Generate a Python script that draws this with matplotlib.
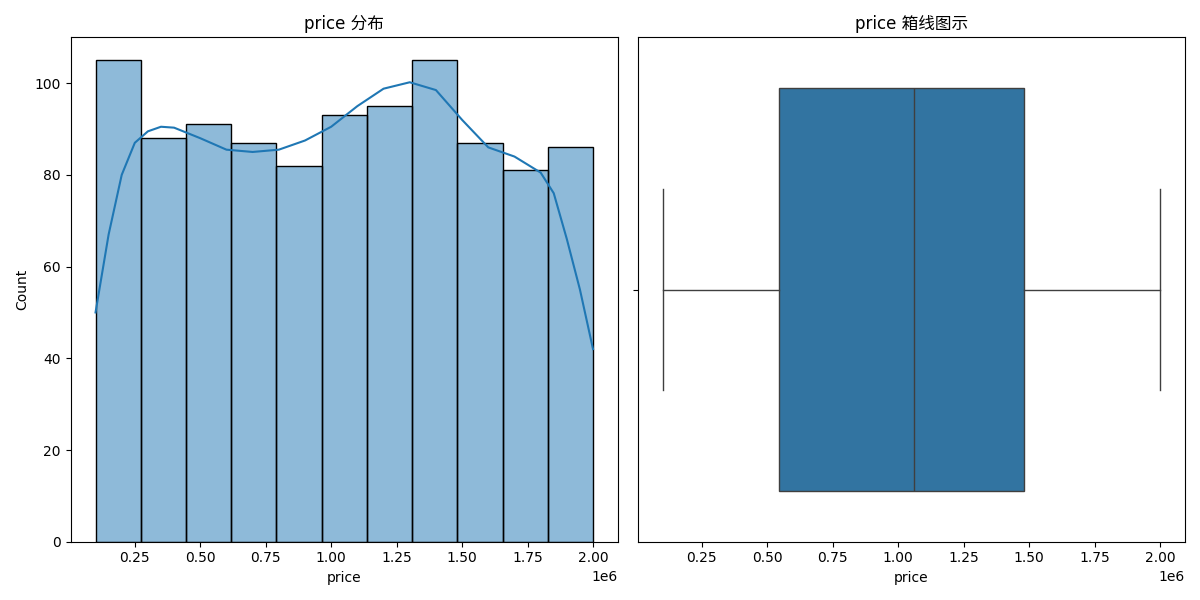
import matplotlib
matplotlib.use("Agg")
import matplotlib.pyplot as plt
import numpy as np

plt.rcParams['font.family'] = ['DejaVu Sans', 'Noto Sans CJK SC']

bin_lo, bin_hi = 1e5, 2e6
counts = [105, 88, 91, 87, 82, 93, 95, 105, 87, 81, 86]
kde_x = [0.1, 0.15, 0.2, 0.25, 0.3, 0.35, 0.4, 0.5, 0.6, 0.7, 0.8, 0.9, 1.0, 1.1, 1.2, 1.3, 1.4, 1.5, 1.6, 1.7, 1.8, 1.85, 1.9, 1.95, 2.0]
kde_y = [50, 67, 80, 87, 89.5, 90.5, 90.3, 88, 85.5, 85, 85.5, 87.5, 90.5, 95, 98.8, 100.2, 98.5, 92, 86, 84, 80.5, 76, 66, 55, 42]
box_stats = dict(whislo=1e5, q1=0.545e6, med=1.06e6, q3=1.48e6, whishi=2.0e6)

fig, (ax1, ax2) = plt.subplots(1, 2, figsize=(12, 6), dpi=100)
edges = np.linspace(bin_lo, bin_hi, len(counts) + 1)
ax1.bar(edges[:-1], counts, width=np.diff(edges), align='edge',
        color='#1f77b4', alpha=0.5, edgecolor='none')
ax1.bar(edges[:-1], counts, width=np.diff(edges), align='edge',
        fill=False, edgecolor='black', linewidth=1)
ax1.plot(np.array(kde_x) * 1e6, kde_y, color='#1f77b4', linewidth=1.5)
ax1.set_xlabel('price')
ax1.set_ylabel('Count')
ax1.set_title('price 分布')
ax1.set_ylim(0, 110)

ax2.bxp([dict(box_stats, fliers=[])], positions=[0], widths=0.8, vert=False,
        patch_artist=True, showfliers=False,
        boxprops=dict(facecolor='#3274a1', edgecolor='#3f3f3f', linewidth=1),
        medianprops=dict(color='#3f3f3f', linewidth=1),
        whiskerprops=dict(color='#3f3f3f', linewidth=1),
        capprops=dict(color='#3f3f3f', linewidth=1))
ax2.set_ylim(0.5, -0.5)
ax2.set_yticks([0])
ax2.set_yticklabels([''])
ax2.set_xlabel('price')
ax2.set_title('price 箱线图示')
ax2.set_xlim(ax1.get_xlim())

fig.tight_layout()
fig.savefig('out.png')
